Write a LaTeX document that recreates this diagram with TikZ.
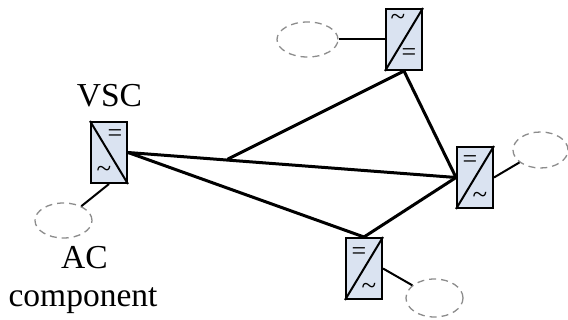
\documentclass[tikz,border=0pt]{standalone}
\usepackage{fontspec}
\setmainfont{Liberation Serif}
\usetikzlibrary{shapes.geometric}
\definecolor{boxfill}{HTML}{DAE3F1}
\definecolor{dashgray}{HTML}{8C8C8C}
\tikzset{
  x=1pt,y=-1pt,
  vsc/.style={draw=black,fill=boxfill,line width=2pt,rectangle,inner sep=0,minimum width=36pt,minimum height=61pt},
  diag/.style={line width=2pt},
  link/.style={line width=3pt,line cap=round},
  stub/.style={line width=2pt},
  acload/.style={draw=dashgray,ellipse,inner sep=0,line width=1.3pt,dash pattern=on 7pt off 5pt},
  lbl/.style={font=\fontsize{33.5pt}{35pt}\selectfont,inner sep=0,anchor=base},
  eqsym/.style={font=\fontsize{26pt}{26pt}\selectfont,inner sep=0,anchor=center},
  acsym/.style={font=\fontsize{27pt}{27pt}\selectfont,inner sep=0,anchor=center},
}
\begin{document}
\begin{tikzpicture}
\useasboundingbox (0,0) rectangle (568,320);
% loads
\node[acload,minimum width=57pt,minimum height=35pt] (l1) at (63.5,220.5) {};
\node[acload,minimum width=61pt,minimum height=35pt] (l2) at (307.5,39.5) {};
\node[acload,minimum width=55pt,minimum height=36pt] (l3) at (540.5,150) {};
\node[acload,minimum width=57pt,minimum height=38pt] (l4) at (434.5,298) {};
% boxes
\node[vsc] (a) at (109,152.5) {};
\node[vsc] (b) at (404,39.5) {};
\node[vsc] (c) at (475,177.5) {};
\node[vsc] (d) at (364,268.5) {};
\draw[diag] (a.north west) -- (a.south east);
\draw[diag] (b.north east) -- (b.south west);
\draw[diag] (c.north east) -- (c.south west);
\draw[diag] (d.north east) -- (d.south west);
% symbols
\node[eqsym] (a1) at (115,136) {=};
\node[acsym] (a2) at (104,172) {\string~};
\node[acsym] (b1) at (398,20) {\string~};
\node[eqsym] (b2) at (409,55) {=};
\node[eqsym] (c1) at (470,162) {=};
\node[acsym] (c2) at (480,198) {\string~};
\node[eqsym] (d1) at (359,254) {=};
\node[acsym] (d2) at (369,289) {\string~};
% network
\coordinate (j) at (228,159);
\draw[link] (a.east) -- (c.west);
\draw[link] (a.east) -- (d.north);
\draw[link] (j) -- (b.south);
\draw[link] (b.south) -- (c.west);
\draw[link] (c.west) -- (d.north);
% stubs
\draw[stub] (a.south) -- (l1);
\draw[stub] (b.west) -- (l2);
\draw[stub] (c.east) -- (l3);
\draw[stub] (d.east) -- (l4);
% labels
\node[lbl] (t1) at (109.5,107) {VSC};
\node[lbl] (t2) at (84.5,269) {AC};
\node[lbl] (t3) at (83,307) {component};
\end{tikzpicture}
\end{document}
